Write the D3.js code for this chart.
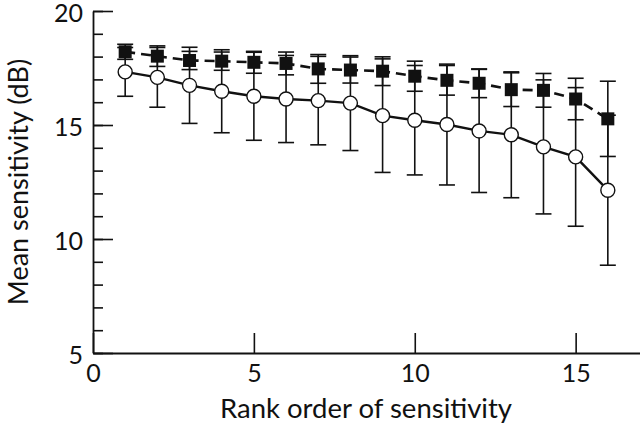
<!DOCTYPE html>
<html>
<head>
<meta charset="utf-8">
<script src="https://cdn.jsdelivr.net/npm/d3@7"></script>
<style>
  body { margin: 0; background: #fff; }
  svg text { font-family: Lato, "DejaVu Sans", sans-serif; fill: #111; }
</style>
</head>
<body>
<div id="chart-area"></div>
<script>
// rank order (x) and the two series: mean and SD of sensitivity in dB
var rank = [1, 2, 3, 4, 5, 6, 7, 8, 9, 10, 11, 12, 13, 14, 15, 16];
var meanSquares = [18.21, 18.02, 17.83, 17.80, 17.75, 17.70, 17.46, 17.41, 17.36, 17.14, 16.96, 16.83, 16.55, 16.52, 16.14, 15.27];
var sdSquares = [0.33, 0.45, 0.40, 0.40, 0.48, 0.50, 0.63, 0.57, 0.63, 0.66, 0.65, 0.63, 0.74, 0.74, 0.91, 1.65];
var meanCircles = [17.33, 17.09, 16.74, 16.48, 16.26, 16.14, 16.07, 15.96, 15.41, 15.21, 15.02, 14.74, 14.57, 14.04, 13.60, 12.14];
var sdCircles = [1.07, 1.31, 1.67, 1.82, 1.93, 1.91, 1.94, 2.08, 2.49, 2.40, 2.65, 2.70, 2.76, 2.94, 3.04, 3.29];

var xTicks = [0, 5, 10, 15];
var yTicks = [5, 10, 15, 20];
var yMinorTicks = d3.range(5, 21, 1);

var width = 640, height = 430;

var svg = d3.select("#chart-area").append("svg")
    .attr("width", width)
    .attr("height", height);

var x = d3.scaleLinear().domain([0, 17]).range([93, 640]);
var y = d3.scaleLinear().domain([5, 20]).range([353, 11]);

// build row objects from the arrays
function rows(means, sds) {
    return rank.map(function(r, i) {
        return {x: r, m: means[i], sd: sds[i]};
    });
}
var squares = rows(meanSquares, sdSquares);
var circles = rows(meanCircles, sdCircles);

// minor ticks on y axis (inward)
svg.append("g")
    .attr("transform", "translate(" + x(0) + ",0)")
    .call(d3.axisLeft(y).tickValues(yMinorTicks).tickSize(-10).tickFormat(""))
    .call(function(g) { g.select(".domain").remove(); })
    .selectAll("line").attr("stroke", "#111").attr("stroke-width", 1.6);

// major y axis
var yAxis = svg.append("g")
    .attr("transform", "translate(" + x(0) + ",0)")
    .call(d3.axisLeft(y).tickValues(yTicks).tickSizeInner(-20).tickSizeOuter(0).tickPadding(10));
yAxis.select(".domain").attr("stroke", "#111").attr("stroke-width", 1.8);
yAxis.selectAll("line").attr("stroke", "#111").attr("stroke-width", 1.6);
yAxis.selectAll("text")
    .attr("font-size", 25)
    .attr("dy", "0.42em")
    .style("font-family", "Lato, sans-serif")
    .attr("fill", "#111");

// x axis
var xAxis = svg.append("g")
    .attr("transform", "translate(0," + y(5) + ")")
    .call(d3.axisBottom(x).tickValues(xTicks).tickSizeInner(-20).tickSizeOuter(0).tickPadding(11));
xAxis.select(".domain").attr("stroke", "#111").attr("stroke-width", 1.8);
xAxis.selectAll("line").attr("stroke", "#111").attr("stroke-width", 1.6);
xAxis.selectAll("text")
    .attr("font-size", 25)
    .style("font-family", "Lato, sans-serif")
    .attr("fill", "#111");

// axis titles
svg.append("text")
    .attr("x", 366)
    .attr("y", 418)
    .attr("text-anchor", "middle")
    .attr("font-size", 27.5)
    .text("Rank order of sensitivity");

svg.append("text")
    .attr("transform", "translate(28,182) rotate(-90)")
    .attr("text-anchor", "middle")
    .attr("font-size", 27)
    .text("Mean sensitivity (dB)");

// error bars
function errorBars(data) {
    var g = svg.append("g").attr("stroke", "#111").attr("stroke-width", 1.6);
    g.selectAll(".bar").data(data).enter().append("line")
        .attr("x1", function(d) { return x(d.x); })
        .attr("x2", function(d) { return x(d.x); })
        .attr("y1", function(d) { return y(d.m - d.sd); })
        .attr("y2", function(d) { return y(d.m + d.sd); });
    g.selectAll(".capLo").data(data).enter().append("line")
        .attr("x1", function(d) { return x(d.x) - 8; })
        .attr("x2", function(d) { return x(d.x) + 8; })
        .attr("y1", function(d) { return y(d.m - d.sd); })
        .attr("y2", function(d) { return y(d.m - d.sd); });
    g.selectAll(".capHi").data(data).enter().append("line")
        .attr("x1", function(d) { return x(d.x) - 8; })
        .attr("x2", function(d) { return x(d.x) + 8; })
        .attr("y1", function(d) { return y(d.m + d.sd); })
        .attr("y2", function(d) { return y(d.m + d.sd); });
}
errorBars(circles);
errorBars(squares);

var line = d3.line()
    .x(function(d) { return x(d.x); })
    .y(function(d) { return y(d.m); });

svg.append("path")
    .datum(circles)
    .attr("d", line)
    .attr("fill", "none")
    .attr("stroke", "#111")
    .attr("stroke-width", 2.4);

svg.append("path")
    .datum(squares)
    .attr("d", line)
    .attr("fill", "none")
    .attr("stroke", "#111")
    .attr("stroke-width", 2.6)
    .attr("stroke-dasharray", "10,6");

// markers
svg.selectAll(".circ").data(circles).enter().append("circle")
    .attr("cx", function(d) { return x(d.x); })
    .attr("cy", function(d) { return y(d.m); })
    .attr("r", 7)
    .attr("fill", "#fff")
    .attr("stroke", "#111")
    .attr("stroke-width", 1.4);

svg.selectAll(".sq").data(squares).enter().append("rect")
    .attr("x", function(d) { return x(d.x) - 6.5; })
    .attr("y", function(d) { return y(d.m) - 6.5; })
    .attr("width", 13)
    .attr("height", 13)
    .attr("fill", "#111");
</script>
</body>
</html>
